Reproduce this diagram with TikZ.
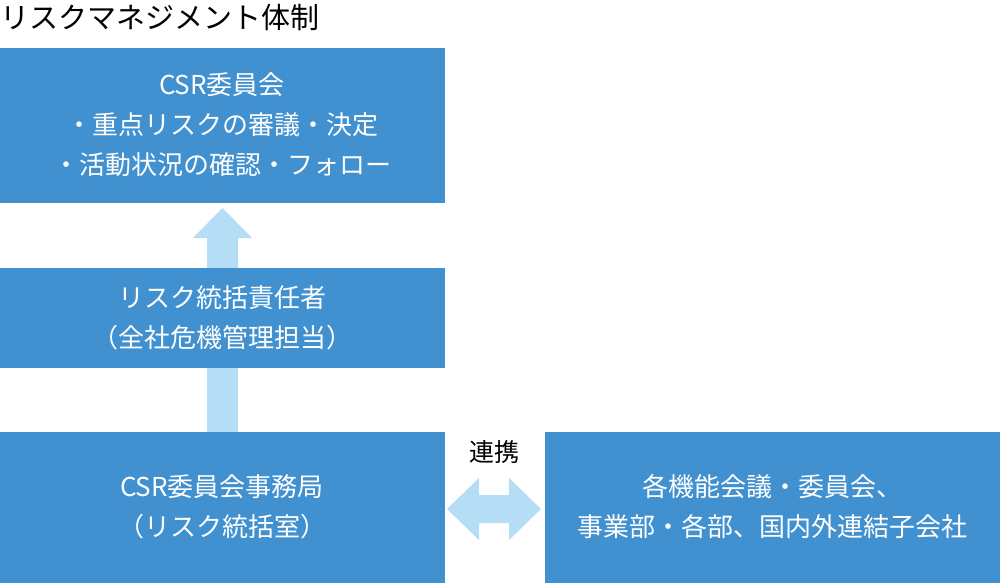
\documentclass[tikz,border=0pt]{standalone}
\usepackage{fontspec}
\setmainfont{Noto Sans CJK JP}
\definecolor{boxb}{HTML}{4190CF}
\definecolor{arrb}{HTML}{B5DDF5}
\tikzset{bx/.style={fill=boxb,draw=none,text=white,align=center,font=\fontsize{26}{40}\selectfont},
arr/.style={fill=arrb,draw=none}}
\begin{document}
\begin{tikzpicture}[x=1pt,y=-1pt]
\useasboundingbox (0,0) rectangle (1000,585);
\node[anchor=west,inner sep=0pt,font=\fontsize{29}{32}\selectfont] (t) at (0,18) {リスクマネジメント体制};
\fill[boxb] (0,48) rectangle (445,203);
\node[bx,anchor=center] (b1) at (222,125) {CSR委員会\\・重点リスクの審議・決定\\・活動状況の確認・フォロー};
\fill[arr] (207,268) -- (207,238) -- (193,238) -- (222.5,208) -- (252,238) -- (238,238) -- (238,268) -- cycle;
\fill[boxb] (0,268) rectangle (445,368);
\node[bx] (b2) at (222,318) {リスク統括責任者\\（全社危機管理担当）};
\fill[arr] (207,368) rectangle (238,432);
\fill[boxb] (0,432) rectangle (445,583);
\node[bx] (b3) at (222,507) {CSR委員会事務局\\（リスク統括室）};
\fill[boxb] (545,432) rectangle (1000,583);
\node[bx] (b4) at (772,507) {各機能会議・委員会、\\事業部・各部、国内外連結子会社};
\fill[arr] (447,509) -- (479,478) -- (479,495) -- (509,495) -- (509,478) -- (541,509) -- (509,540) -- (509,523) -- (479,523) -- (479,540) -- cycle;
\node[font=\fontsize{25}{28}\selectfont] (l) at (494,452) {連携};
\end{tikzpicture}
\end{document}
